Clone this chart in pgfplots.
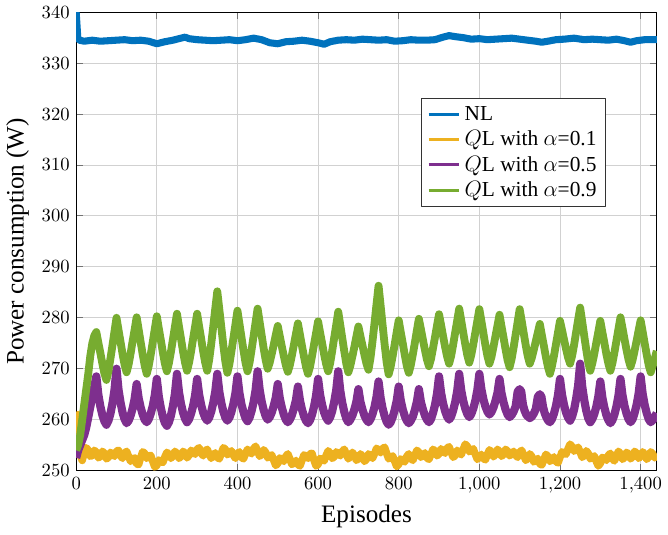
\documentclass[border=0pt]{standalone}
\usepackage{fontspec}
\setmainfont{Liberation Serif}
\usepackage{pgfplots}
\pgfplotsset{compat=1.18}
\usepackage{pgfplotstable}
\definecolor{mblue}{rgb}{0,0.447,0.741}
\definecolor{myellow}{rgb}{0.929,0.694,0.125}
\definecolor{mpurple}{rgb}{0.494,0.184,0.556}
\definecolor{mgreen}{rgb}{0.466,0.674,0.188}

\pgfplotstableread{
x y
0 340.0
2 337.5
4 335.0
8 334.5
20 334.3
40 334.5
60 334.3
80 334.4
100 334.5
120 334.6
140 334.4
160 334.5
180 334.3
200 333.8
220 334.2
240 334.5
260 334.9
270 335.1
280 334.8
300 334.6
320 334.5
340 334.4
360 334.5
380 334.6
400 334.4
420 334.6
440 334.9
460 334.6
480 334.0
500 333.8
520 334.2
540 334.3
560 334.5
580 334.3
600 334.0
615 333.7
630 334.2
650 334.5
670 334.6
690 334.5
710 334.7
730 334.6
750 334.5
770 334.6
790 334.3
810 334.4
830 334.6
850 334.5
870 334.5
890 334.6
910 335.1
925 335.4
940 335.2
960 335.0
980 334.7
1000 334.8
1020 334.6
1040 334.7
1060 334.8
1080 334.9
1100 334.7
1120 334.5
1140 334.3
1155 334.1
1170 334.3
1190 334.6
1210 334.7
1235 334.9
1260 334.6
1280 334.7
1300 334.6
1320 334.5
1340 334.7
1360 334.4
1375 334.1
1390 334.4
1410 334.6
1440 334.6
}\nl

\pgfplotstableread{
x y
0 253.5
3 258.5
5 261.0
8 256.0
10 253.0
15 252.0
20 253.5
25 254.5
30 254.0
35 252.8
40 253.0
45 254.0
50 253.6
55 252.5
60 252.8
65 253.8
70 253.4
75 252.3
80 252.6
85 253.6
90 253.2
95 252.8
100 253.8
105 254.0
110 252.9
115 252.4
120 253.4
125 253.8
130 252.8
135 251.8
140 252.3
145 252.5
150 251.3
155 251.2
160 252.6
165 253.7
170 253.4
175 252.4
180 252.8
185 253.0
190 251.8
195 250.7
200 251.0
205 252.1
210 251.8
215 251.6
220 252.7
225 253.6
230 253.2
235 252.4
240 252.9
245 253.8
250 253.3
255 252.4
260 252.8
265 253.8
270 253.4
275 252.5
280 253.0
285 254.0
290 253.6
295 253.2
300 254.2
305 254.5
310 253.4
315 252.9
320 253.8
325 254.2
330 253.2
335 252.4
340 253.0
345 253.5
350 252.6
355 252.3
360 253.4
365 254.5
370 254.2
375 253.1
380 253.5
385 253.9
390 253.0
395 252.4
400 253.3
405 253.7
410 252.6
415 252.3
420 253.3
425 254.2
430 253.7
435 253.3
440 254.3
445 254.8
450 253.8
455 252.8
460 253.2
465 254.1
470 253.6
475 252.5
480 252.8
485 253.1
490 252.0
495 251.0
500 251.4
505 252.5
510 252.2
515 251.8
520 252.8
525 253.3
530 252.3
535 251.2
540 251.5
545 252.0
550 251.2
555 250.9
560 252.0
565 253.1
570 252.8
575 252.4
580 253.3
585 253.4
590 252.0
595 250.9
600 251.2
605 252.4
610 252.2
615 251.9
620 253.0
625 253.9
630 253.4
635 252.4
640 252.7
645 253.7
650 253.3
655 252.9
660 253.8
665 254.2
670 253.2
675 252.3
680 252.8
685 253.6
690 253.0
695 252.0
700 252.4
705 253.3
710 252.8
715 251.8
720 252.2
725 253.3
730 252.9
735 252.4
740 253.3
745 254.4
750 254.0
755 253.5
760 254.3
765 254.6
770 253.4
775 252.3
780 252.6
785 252.9
790 251.8
795 250.8
800 251.2
805 252.3
810 252.0
815 251.7
820 252.8
825 253.3
830 252.4
835 252.0
840 253.0
845 254.0
850 253.6
855 252.6
860 253.0
865 253.5
870 252.5
875 252.2
880 253.2
885 254.2
890 253.8
895 252.9
900 253.3
905 254.3
910 253.8
915 253.4
920 254.4
925 254.7
930 253.6
935 252.6
940 253.0
945 254.0
950 253.5
955 253.1
960 254.2
965 255.2
970 254.8
975 253.7
980 254.0
985 254.3
990 253.2
995 252.2
1000 252.6
1005 253.2
1010 252.4
1015 252.1
1020 253.2
1025 254.1
1030 253.6
1035 252.7
1040 253.2
1045 254.2
1050 253.7
1055 252.8
1060 253.2
1065 254.2
1070 253.8
1075 252.9
1080 253.3
1085 253.8
1090 253.0
1095 252.6
1100 253.6
1105 254.0
1110 253.0
1115 252.0
1120 252.4
1125 253.3
1130 252.8
1135 251.7
1140 252.0
1145 252.4
1150 251.3
1155 251.1
1160 252.2
1165 253.2
1170 252.8
1175 251.8
1180 252.2
1185 252.7
1190 251.8
1195 251.5
1200 252.6
1205 253.7
1210 253.4
1215 253.2
1220 254.3
1225 255.2
1230 254.7
1235 253.8
1240 254.2
1245 254.6
1250 253.6
1255 252.6
1260 253.0
1265 253.9
1270 253.4
1275 252.3
1280 252.6
1285 252.9
1290 251.8
1295 250.9
1300 251.4
1305 252.6
1310 252.4
1315 252.0
1320 253.0
1325 253.4
1330 252.3
1335 251.9
1340 252.9
1345 253.8
1350 253.3
1355 252.2
1360 252.6
1365 253.6
1370 253.2
1375 252.3
1380 252.7
1385 253.8
1390 253.4
1395 252.4
1400 252.8
1405 253.7
1410 253.2
1415 252.2
1420 252.7
1425 253.7
1430 253.3
1435 252.5
1440 253.0
}\qla

\pgfplotstableread{
x y
0 252.5
5 254.0
10 255.0
15 256.0
20 257.0
25 258.5
30 260.5
35 262.5
40 264.5
45 266.5
50 268.5
55 264.9
60 262.6
65 260.9
70 259.7
75 259.0
80 259.8
85 261.2
90 263.2
95 265.8
100 270.0
105 265.9
110 263.4
115 261.4
120 260.1
125 259.3
130 259.8
135 260.8
140 262.2
145 264.1
150 267.0
155 264.2
160 262.4
165 261.0
170 260.0
175 259.5
180 260.1
185 261.2
190 262.7
195 264.8
200 268.0
205 264.5
210 262.3
215 260.6
220 259.4
225 258.8
230 259.5
235 260.8
240 262.7
245 265.1
250 269.0
255 265.4
260 263.1
265 261.4
270 260.2
275 259.5
280 260.1
285 261.2
290 262.7
295 264.8
300 268.0
305 264.9
310 262.9
315 261.4
320 260.4
325 259.8
330 260.4
335 261.6
340 263.3
345 265.5
350 269.0
355 265.5
360 263.3
365 261.6
370 260.4
375 259.8
380 260.4
385 261.5
390 263.1
395 265.2
400 268.5
405 265.2
410 263.0
415 261.5
420 260.3
425 259.7
430 260.4
435 261.7
440 263.4
445 265.8
450 269.5
455 265.9
460 263.6
465 261.9
470 260.7
475 260.0
480 260.5
485 261.4
490 262.7
495 264.3
500 267.0
505 264.2
510 262.4
515 261.0
520 260.0
525 259.5
530 260.0
535 260.9
540 262.2
545 263.8
550 266.5
555 263.8
560 262.0
565 260.7
570 259.8
575 259.3
580 259.9
585 261.0
590 262.6
595 264.7
600 268.0
605 264.9
610 262.9
615 261.4
620 260.4
625 259.8
630 260.5
635 261.7
640 263.5
645 265.8
650 269.5
655 265.7
660 263.3
665 261.5
670 260.2
675 259.5
680 260.0
685 260.8
690 262.0
695 263.5
700 266.0
705 263.5
710 262.0
715 260.8
720 260.0
725 259.5
730 260.1
735 261.1
740 262.5
745 264.5
750 267.5
755 264.3
760 262.2
765 260.7
770 259.6
775 259.0
780 259.5
785 260.5
790 261.9
795 263.7
800 266.5
805 263.8
810 262.0
815 260.7
820 259.8
825 259.3
830 259.8
835 260.6
840 261.9
845 263.5
850 266.0
855 263.5
860 262.0
865 260.8
870 260.0
875 259.5
880 260.1
885 261.3
890 262.9
895 265.1
900 268.5
905 265.3
910 263.2
915 261.7
920 260.6
925 260.0
930 260.6
935 261.8
940 263.4
945 265.6
950 269.0
955 265.8
960 263.7
965 262.2
970 261.1
975 260.5
980 261.1
985 262.2
990 263.7
995 265.8
1000 269.0
1005 266.0
1010 264.0
1015 262.6
1020 261.6
1025 261.0
1030 261.5
1035 262.4
1040 263.7
1045 265.3
1050 268.0
1055 265.2
1060 263.4
1065 262.0
1070 261.0
1075 260.5
1080 260.9
1085 261.6
1090 262.6
1095 265.5
1100 266.0
1104 265.5
1108 263.0
1112 261.8
1117 260.9
1125 260.3
1130 260.6
1135 261.2
1140 262.1
1145 264.5
1150 265.0
1154 264.5
1158 262.5
1162 261.3
1166 260.5
1170 259.9
1175 259.5
1180 260.1
1185 261.2
1190 262.7
1195 264.8
1200 268.0
1205 264.9
1210 262.9
1215 261.4
1220 260.4
1225 259.8
1230 260.6
1235 262.0
1240 264.1
1245 266.7
1250 271.0
1255 266.6
1260 263.9
1265 261.8
1270 260.3
1275 259.5
1280 260.1
1285 261.1
1290 262.5
1295 264.5
1300 267.5
1305 264.4
1310 262.4
1315 260.9
1320 259.9
1325 259.3
1330 259.9
1335 261.0
1340 262.6
1345 264.7
1350 268.0
1355 264.8
1360 262.7
1365 261.2
1370 260.1
1375 259.5
1380 260.1
1385 261.3
1390 262.9
1395 265.1
1400 268.5
1405 265.1
1410 262.9
1415 261.3
1420 260.1
1425 259.5
1430 259.9
1435 260.5
1440 261.3
}\qlb

\pgfplotstableread{
x y
0 254.0
5 255.0
10 257.0
15 260.0
20 263.0
25 266.0
30 269.0
35 272.5
40 275.0
45 276.5
50 277.2
55 275.1
60 273.1
65 271.0
70 269.1
75 267.8
80 269.5
85 272.0
90 274.6
95 277.3
100 280.0
105 277.6
110 275.3
115 272.9
120 270.8
125 269.3
130 270.8
135 273.0
140 275.4
145 277.7
150 280.1
155 277.7
160 275.2
165 272.8
170 270.6
175 269.0
180 270.6
185 272.8
190 275.3
195 277.8
200 280.3
205 277.9
210 275.6
215 273.2
220 271.0
225 269.5
230 271.1
235 273.3
240 275.8
245 278.3
250 280.8
255 278.3
260 275.9
265 273.4
270 271.2
275 269.6
280 271.2
285 273.4
290 275.9
295 278.3
300 280.8
305 278.3
310 275.9
315 273.4
320 271.2
325 269.6
330 271.8
335 274.9
340 278.3
345 281.8
350 285.2
355 281.7
360 278.2
365 274.6
370 271.4
375 269.2
380 270.9
385 273.4
390 276.0
395 278.7
400 281.4
405 278.8
410 276.2
415 273.6
420 271.2
425 269.5
430 271.2
435 273.7
440 276.4
445 279.1
450 281.8
455 279.2
460 276.6
465 274.0
470 271.7
475 270.0
480 271.2
485 272.9
490 274.7
495 276.6
500 278.4
505 276.4
510 274.4
515 272.5
520 270.7
525 269.4
530 270.7
535 272.6
540 274.7
545 276.8
550 278.9
555 276.7
560 274.5
565 272.4
570 270.4
575 269.0
580 270.4
585 272.5
590 274.8
595 277.0
600 279.3
605 277.1
610 275.0
615 272.8
620 270.9
625 269.5
630 271.1
635 273.5
640 276.1
645 278.6
650 281.2
655 278.6
660 276.0
665 273.4
670 271.0
675 269.3
680 270.6
685 272.4
690 274.3
695 276.3
700 278.3
705 276.4
710 274.6
715 272.7
720 271.0
725 269.8
730 272.1
735 275.4
740 279.0
745 282.7
750 286.3
755 282.5
760 278.6
765 274.8
770 271.3
775 268.9
780 270.4
785 272.5
790 274.8
795 277.2
800 279.5
805 277.2
810 275.0
815 272.7
820 270.6
825 269.2
830 270.7
835 272.8
840 275.1
845 277.5
850 279.8
855 277.8
860 275.7
865 273.7
870 271.8
875 270.5
880 271.9
885 274.0
890 276.2
895 278.5
900 280.7
905 278.6
910 276.4
915 274.3
920 272.4
925 271.0
930 272.5
935 274.7
940 277.1
945 279.4
950 281.8
955 279.5
960 277.1
965 274.8
970 272.7
975 271.2
980 272.7
985 274.8
990 277.1
995 279.4
1000 281.7
1005 279.4
1010 277.0
1015 274.6
1020 272.5
1025 271.0
1030 272.3
1035 274.3
1040 276.4
1045 278.5
1050 280.6
1055 278.3
1060 276.1
1065 273.8
1070 271.7
1075 270.3
1080 271.9
1085 274.2
1090 276.7
1095 279.2
1100 281.7
1105 279.4
1110 277.0
1115 274.6
1120 272.5
1125 271.0
1130 272.1
1135 273.7
1140 275.4
1145 277.1
1150 278.8
1155 276.6
1160 274.5
1165 272.3
1170 270.4
1175 269.0
1180 270.5
1185 272.5
1190 274.8
1195 277.1
1200 279.4
1205 277.6
1210 275.7
1215 273.9
1220 272.2
1225 271.0
1230 272.5
1235 274.7
1240 277.2
1245 279.6
1250 282.0
1255 279.3
1260 276.5
1265 273.8
1270 271.3
1275 269.6
1280 271.0
1285 272.9
1290 275.1
1295 277.2
1300 279.4
1305 277.2
1310 275.1
1315 272.9
1320 271.0
1325 269.6
1330 271.1
1335 273.2
1340 275.5
1345 277.8
1350 280.1
1355 278.0
1360 275.8
1365 273.7
1370 271.8
1375 270.4
1380 271.7
1385 273.5
1390 275.5
1395 277.5
1400 279.5
1405 277.3
1410 275.0
1415 272.8
1420 270.7
1425 269.3
1430 270.6
1435 272.0
1440 273.5
}\qlc

\begin{document}
\begin{tikzpicture}
\begin{axis}[
  width=312.3pt, height=246.6pt, scale only axis,
  xmin=0, xmax=1440, ymin=250, ymax=340,
  xtick={0,200,...,1400}, ytick={250,260,...,340},
  grid=major,
  major grid style={color=black!18, line width=0.5pt},
  tick align=inside, tick pos=both,
  major tick length=3.5pt,
  tick style={color=black!55, line width=0.5pt},
  axis line style={black, line width=0.6pt},
  xlabel={Episodes},
  ylabel={Power consumption (W)},
  label style={font=\fontsize{13.5}{16}\selectfont},
  legend style={at={(0.913,0.812)}, anchor=north east, draw=black!80,
    fill=white, font=\fontsize{11.5}{13.5}\selectfont, line width=0.5pt},
  legend cell align=left,
  legend image code/.code={\draw[#1, line width=1.6pt] (0cm,0cm) -- (0.58cm,0cm);},
  line join=round,
]
\addplot[color=mblue, line width=3.8pt] table[x=x,y=y] {\nl};
\addlegendentry{NL}
\addplot[color=myellow, line width=4.0pt] table[x=x,y=y] {\qla};
\addlegendentry{$Q$L with $\alpha$=0.1}
\addplot[color=mpurple, line width=4.4pt] table[x=x,y=y] {\qlb};
\addlegendentry{$Q$L with $\alpha$=0.5}
\addplot[color=mgreen, line width=4.2pt] table[x=x,y=y] {\qlc};
\addlegendentry{$Q$L with $\alpha$=0.9}
\end{axis}
\end{tikzpicture}
\end{document}
